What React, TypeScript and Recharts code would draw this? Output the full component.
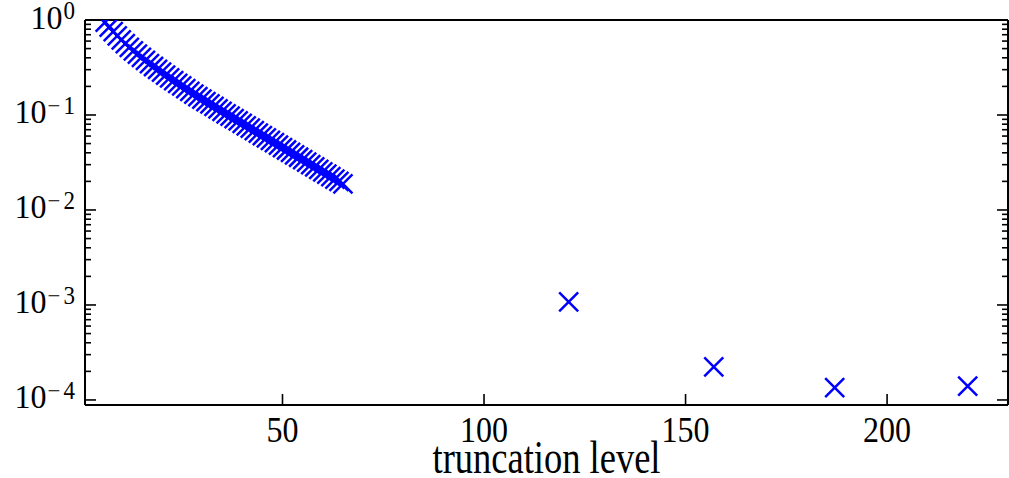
import React from "react";
import { ScatterChart, Scatter, XAxis, YAxis } from "recharts";

// truncation levels of the dense run, and the error measured at each
const denseLevels = [
  6, 7, 8, 9, 10, 11, 12, 13, 14, 15, 16, 17, 18, 19, 20, 21, 22, 23, 24, 25,
  26, 27, 28, 29, 30, 31, 32, 33, 34, 35, 36, 37, 38, 39, 40, 41, 42, 43, 44,
  45, 46, 47, 48, 49, 50, 51, 52, 53, 54, 55, 56, 57, 58, 59, 60, 61, 62, 63,
  64, 65,
];
const denseErrors = [
  0.95, 0.84, 0.755, 0.68, 0.617, 0.564, 0.516, 0.474, 0.437, 0.405, 0.375,
  0.348, 0.324, 0.302, 0.282, 0.263, 0.246, 0.23, 0.215, 0.202, 0.189, 0.177,
  0.166, 0.156, 0.147, 0.138, 0.131, 0.123, 0.116, 0.109, 0.103, 0.0973,
  0.0918, 0.0865, 0.0817, 0.0769, 0.0726, 0.0684, 0.0646, 0.0608, 0.0574,
  0.0541, 0.0511, 0.0481, 0.0454, 0.0428, 0.0404, 0.038, 0.0359, 0.0338,
  0.0319, 0.0301, 0.0284, 0.0267, 0.0252, 0.0238, 0.0224, 0.0211, 0.02, 0.0188,
];

// the sparse runs further out
const sparseLevels = [121, 157, 187, 220];
const sparseErrors = [1.08e-3, 2.23e-4, 1.35e-4, 1.4e-4];

const xTicks = [50, 100, 150, 200];
const yTicks = [
  1e-4, 2e-4, 3e-4, 4e-4, 5e-4, 6e-4, 7e-4, 8e-4, 9e-4,
  1e-3, 2e-3, 3e-3, 4e-3, 5e-3, 6e-3, 7e-3, 8e-3, 9e-3,
  1e-2, 2e-2, 3e-2, 4e-2, 5e-2, 6e-2, 7e-2, 8e-2, 9e-2,
  1e-1, 2e-1, 3e-1, 4e-1, 5e-1, 6e-1, 7e-1, 8e-1, 9e-1, 1,
];

const denseData = denseLevels.map((n, i) => ({ level: n, err: denseErrors[i] }));
const sparseData = sparseLevels.map((n, i) => ({ level: n, err: sparseErrors[i] }));

const FONT = "'Liberation Serif', 'Times New Roman', serif";
const BLUE = "#0000ff";

const isMajor = (v: number) => {
  const l = Math.log10(v);
  return Math.abs(l - Math.round(l)) < 1e-6;
};

const XMark = ({ cx, cy }: any) => {
  const s = 9.5;
  return (
    <path
      d={`M${cx - s},${cy - s}L${cx + s},${cy + s}M${cx - s},${cy + s}L${cx + s},${cy - s}`}
      stroke={BLUE}
      strokeWidth={2.5}
      fill="none"
    />
  );
};

const BottomTick = ({ x, y, payload }: any) => (
  <g>
    <path d={`M${x},${y}V${y - 11}`} stroke="#000" strokeWidth={1.6} fill="none" />
    <text
      transform={`translate(${x},${y + 37}) scale(1,1.15)`}
      textAnchor="middle"
      fontFamily={FONT}
      fontSize={32}
      fill="#000"
    >
      {payload.value}
    </text>
  </g>
);

const TopTick = ({ x, y }: any) => (
  <path d={`M${x},${y}V${y + 11}`} stroke="#000" strokeWidth={1.6} fill="none" />
);

const LeftTick = ({ x, y, payload }: any) => {
  const v = payload.value;
  const major = isMajor(v);
  const e = Math.round(Math.log10(v));
  return (
    <g>
      <path d={`M${x},${y}H${x + (major ? 11 : 6)}`} stroke="#000" strokeWidth={1.6} fill="none" />
      {major && (
        <text
          transform={`translate(${x - 10},${y + 8.5}) scale(1,1.05)`}
          textAnchor="end"
          fontFamily={FONT}
          fontSize={32}
          fill="#000"
        >
          <tspan>10</tspan>
          {e === 0 ? (
            <tspan dy={-9} dx={1} fontSize={23}>0</tspan>
          ) : (
            <>
              <tspan dy={-9} dx={1} fontSize={23}>{"\u2212"}</tspan>
              <tspan dx={3} fontSize={23}>{-e}</tspan>
            </>
          )}
        </text>
      )}
    </g>
  );
};

const RightTick = ({ x, y, payload }: any) => {
  const major = isMajor(payload.value);
  return <path d={`M${x},${y}H${x - (major ? 11 : 6)}`} stroke="#000" strokeWidth={1.6} fill="none" />;
};

const AxisTitle = ({ viewBox }: any) => {
  const cx = viewBox.x + viewBox.width / 2;
  return (
    <text
      transform={`translate(${cx},473) scale(1,1.25)`}
      textAnchor="middle"
      fontFamily={FONT}
      fontSize={36.5}
      fill="#000"
    >
      truncation level
    </text>
  );
};

const axisLine = { stroke: "#000", strokeWidth: 2 };

export default function App() {
  return (
    <div style={{ position: "absolute", left: 0, top: 0, background: "#fff" }}>
      <ScatterChart width={1009} height={478} margin={{ top: 19, right: 0, bottom: 0, left: 0 }}>
        <XAxis
          xAxisId={0}
          dataKey="level"
          type="number"
          domain={[1, 230]}
          ticks={xTicks}
          interval={0}
          allowDataOverflow
          height={73}
          tickSize={0}
          tickMargin={0}
          tickLine={false}
          axisLine={axisLine}
          tick={(p: any) => <BottomTick {...p} />}
          label={{ content: (p: any) => <AxisTitle {...p} /> }}
        />
        <XAxis
          xAxisId="top"
          orientation="top"
          type="number"
          domain={[1, 230]}
          ticks={xTicks}
          interval={0}
          allowDataOverflow
          height={1}
          tickSize={0}
          tickMargin={0}
          tickLine={false}
          axisLine={axisLine}
          tick={(p: any) => <TopTick {...p} />}
        />
        <YAxis
          yAxisId={0}
          dataKey="err"
          type="number"
          scale="log"
          domain={[8.85e-5, 1]}
          ticks={yTicks}
          interval={0}
          allowDataOverflow
          width={85}
          tickSize={0}
          tickMargin={0}
          tickLine={false}
          axisLine={axisLine}
          tick={(p: any) => <LeftTick {...p} />}
        />
        <YAxis
          yAxisId="right"
          orientation="right"
          type="number"
          scale="log"
          domain={[8.85e-5, 1]}
          ticks={yTicks}
          interval={0}
          allowDataOverflow
          width={1}
          tickSize={0}
          tickMargin={0}
          tickLine={false}
          axisLine={axisLine}
          tick={(p: any) => <RightTick {...p} />}
        />
        <Scatter
          data={denseData}
          xAxisId={0}
          yAxisId={0}
          isAnimationActive={false}
          shape={(p: any) => <XMark {...p} />}
        />
        <Scatter
          data={sparseData}
          xAxisId={0}
          yAxisId={0}
          isAnimationActive={false}
          shape={(p: any) => <XMark {...p} />}
        />
      </ScatterChart>
    </div>
  );
}
